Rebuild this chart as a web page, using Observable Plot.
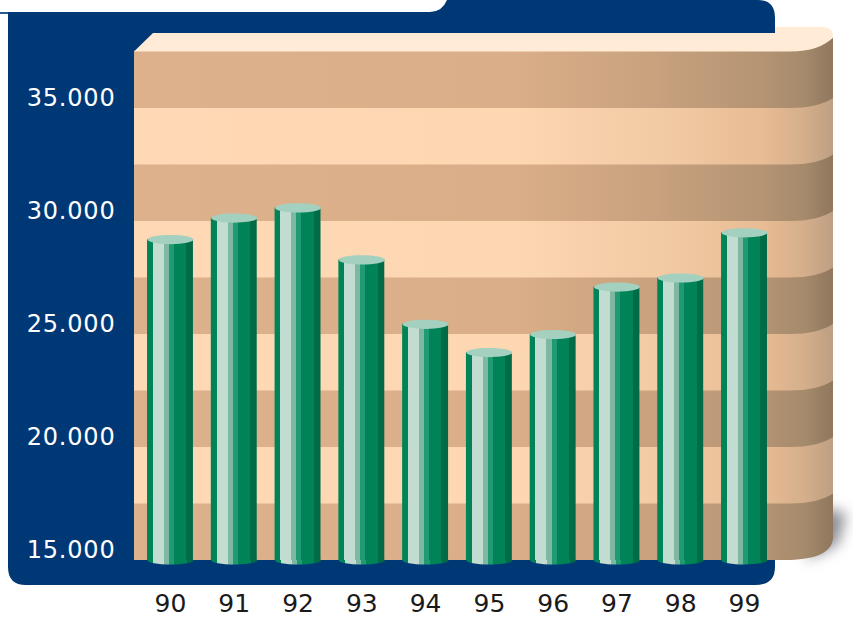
<!DOCTYPE html>
<html><head><meta charset="utf-8">
<script src="https://cdn.jsdelivr.net/npm/d3@7"></script>
<script src="https://cdn.jsdelivr.net/npm/@observablehq/plot@0.6"></script>
<style>html,body{margin:0;padding:0;background:#fff}svg{display:block}
svg [aria-label="y-axis tick label"]{letter-spacing:.8px}</style>
</head><body><div id="chart"></div>
<script>
const years = ["90","91","92","93","94","95","96","97","98","99"];
const values = [29200,30150,30600,28300,25450,24200,25000,27100,27500,29500];
const yTicks = [15000,20000,25000,30000,35000];
const bandEdges = [15000,17500,20000,22500,25000,27500,30000,32500,35000,37500];
const rows = years.map((year,i)=>({year,value:values[i]}));
const stripeStops = [[0,"#008357"],[.125,"#008357"],[.125,"#c3dcd1"],[.365,"#c3dcd1"],[.365,"#7db8a0"],[.475,"#7db8a0"],[.475,"#1f9a75"],[.585,"#1f9a75"],[.585,"#008357"],[.855,"#008357"],[.855,"#006b47"],[1,"#006b47"]];
const ell = (rx,ry)=>({draw(c){const k=.5523;
  c.moveTo(-rx,0);c.bezierCurveTo(-rx,-ry*k,-rx*k,-ry,0,-ry);c.bezierCurveTo(rx*k,-ry,rx,-ry*k,rx,0);
  c.bezierCurveTo(rx,ry*k,rx*k,ry,0,ry);c.bezierCurveTo(-rx*k,ry,-rx,ry*k,-rx,0);c.closePath();}});
function backdrop(index,{y}){
  const g=d3.create("svg:g");
  const defs=g.append("defs");
  const lin=(id,stops,x1=134,x2=833)=>{const l=defs.append("linearGradient").attr("id",id).attr("gradientUnits","userSpaceOnUse").attr("x1",x1).attr("x2",x2).attr("y1",0).attr("y2",0);
    stops.forEach(([o,c])=>l.append("stop").attr("offset",o).attr("stop-color",c));};
  lin("dark",[[0,"#ddb18b"],[.55,"#d9ae88"],[.75,"#c8a17e"],[.9,"#b49473"],[.96,"#a58a6c"],[1,"#8f775d"]]);
  lin("light",[[0,"#ffd8b5"],[.55,"#fdd6b2"],[.75,"#f2cba5"],[.9,"#e8bc94"],[.96,"#d4ae8b"],[1,"#bd9f82"]]);
  const cyl=defs.append("linearGradient").attr("id","cyl");
  stripeStops.forEach(([o,c])=>cyl.append("stop").attr("offset",o).attr("stop-color",c));
  defs.append("filter").attr("id","blur").attr("filterUnits","userSpaceOnUse").attr("x",760).attr("y",460).attr("width",120).attr("height",140).append("feGaussianBlur").attr("stdDeviation",7);
  // soft shadow
  g.append("path").attr("d","M822,508 L846,513 L838,544 L806,560 Z").attr("fill","#8a8a94").attr("filter","url(#blur)");
  // navy panel
  g.append("path").attr("d","M8,12 H430 Q442,12 447,0 H758 Q775,0 775,18 V567 Q775,585 755,585 H26 Q8,585 8,567 Z").attr("fill","#003876");
  g.append("rect").attr("x",0).attr("y",12).attr("width",8).attr("height",2).attr("fill","#245a92");
  // bands, lower ones first; each runs slightly under the next to avoid seams
  for(let i=0;i<bandEdges.length-1;i++){
    const y0=y(bandEdges[i]),y1=y(bandEdges[i+1])-.7;
    const dark=i%2===0;
    const lift1=i===bandEdges.length-2?13:10;
    const bottom=i===0?`L785,${y0} C812,${y0} 833,${y0-6} 833,${y0-23}`:`L790,${y0} Q818,${y0} 833,${y0-10}`;
    g.append("path").attr("d",`M134,${y0} ${bottom} L833,${y1-lift1} Q818,${y1} 790,${y1} L134,${y1} Z`).attr("fill",dark?"url(#dark)":"url(#light)");
  }
  // top of the wall
  const t=y(37500);
  g.append("path").attr("d",`M134,${t} L153,33 H775 V27 H822 Q833,27 833,37 Q820,${t} 790,${t} Z`).attr("fill","#ffebd6");
  return g.node();
}
const fmt=d=>d3.format(",")(d).replace(",",".");
const plot=Plot.plot({
  width:853,height:618,marginLeft:115,marginRight:0,marginTop:0,marginBottom:30,
  style:{background:"#fff",fontFamily:"'DejaVu Sans',sans-serif",overflow:"visible"},
  x:{type:"band",domain:years,range:[138.1,775.9],paddingInner:.28,paddingOuter:.14,round:false,label:null},
  y:{domain:[15000,37500],range:[560,51.5],label:null},
  marks:[
    backdrop,
    Plot.dot(rows,{x:"year",y:()=>15000,symbol:ell(23,4),fill:"url(#cyl)",r:23}),
    Plot.barY(rows,{x:"year",y1:()=>15000,y2:"value",fill:"url(#cyl)"}),
    Plot.dot(rows,{x:"year",y:"value",symbol:ell(23,4.6),fill:"#a3d0bf",r:23}),
    Plot.axisY({ticks:yTicks,tickSize:0,tickPadding:0,dy:-10,tickFormat:fmt,color:"#fff",fill:"#fff",fontSize:24,label:null}),
    Plot.axisX({tickSize:0,tickPadding:0,color:"#1a1a1a",fill:"#1a1a1a",fontSize:25,label:null,dy:6})
  ]
});
document.getElementById("chart").append(plot);
</script></body></html>
